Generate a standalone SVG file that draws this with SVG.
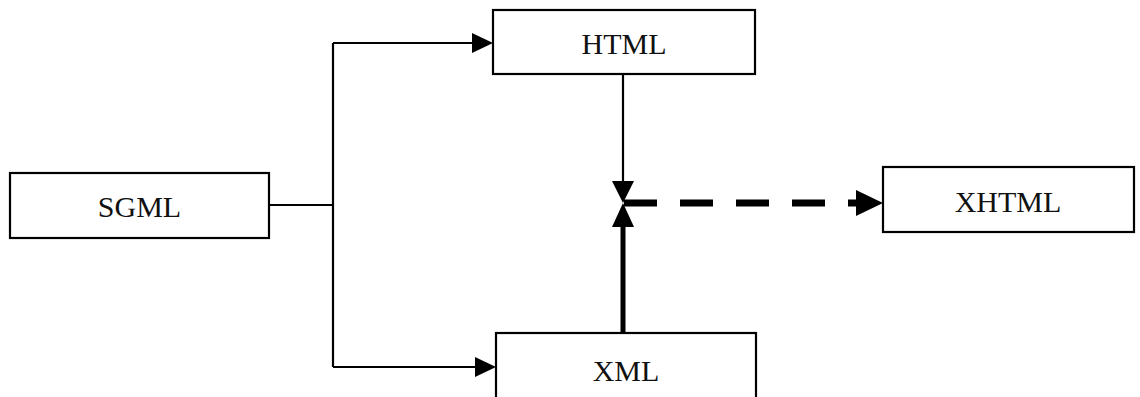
<svg xmlns="http://www.w3.org/2000/svg" width="1140" height="397" viewBox="0 0 1140 397">
  <style>
    .box { fill: #fff; stroke: #000; stroke-width: 2.2; }
    .label { font-family: "Liberation Serif", "DejaVu Serif", serif; font-size: 30px; fill: #111; text-anchor: middle; dominant-baseline: central; }
    .line { fill: none; stroke: #000; stroke-width: 2.2; }
    .thick { fill: none; stroke: #000; stroke-width: 5; }
    .dash { fill: none; stroke: #000; stroke-width: 7; stroke-dasharray: 33 23; }
    .head { fill: #000; }
  </style>
  <rect width="1140" height="397" fill="#fff"/>

  <g id="connectors">
    <!-- SGML branches to HTML and XML -->
    <path class="line" d="M269 205 H333 M333 43 V367"/>
    <path class="line" d="M333 43 H475"/>
    <polygon class="head" points="493,43 472,33 472,53"/>
    <path class="line" d="M333 367 H478"/>
    <polygon class="head" points="496,367 475,357 475,377"/>
    <!-- HTML down to merge point -->
    <path class="line" d="M623 74 V184"/>
    <polygon class="head" points="623,203 612,181 634,181"/>
    <!-- XML up to merge point -->
    <path class="thick" d="M623 333 V225"/>
    <polygon class="head" points="623,203 612,227 634,227"/>
    <!-- merge point to XHTML -->
    <path class="dash" d="M624 203 H858"/>
    <polygon class="head" points="883,203 856,190 856,216"/>
  </g>

  <g id="sgml">
    <rect class="box" x="10" y="173" width="259" height="65"/>
    <text class="label" x="139.5" y="206">SGML</text>
  </g>
  <g id="html">
    <rect class="box" x="493" y="10" width="262" height="64"/>
    <text class="label" x="624" y="43">HTML</text>
  </g>
  <g id="xml">
    <rect class="box" x="496" y="333" width="260" height="70"/>
    <text class="label" x="626" y="370">XML</text>
  </g>
  <g id="xhtml">
    <rect class="box" x="883" y="167" width="251" height="65"/>
    <text class="label" x="1008" y="201">XHTML</text>
  </g>
</svg>
